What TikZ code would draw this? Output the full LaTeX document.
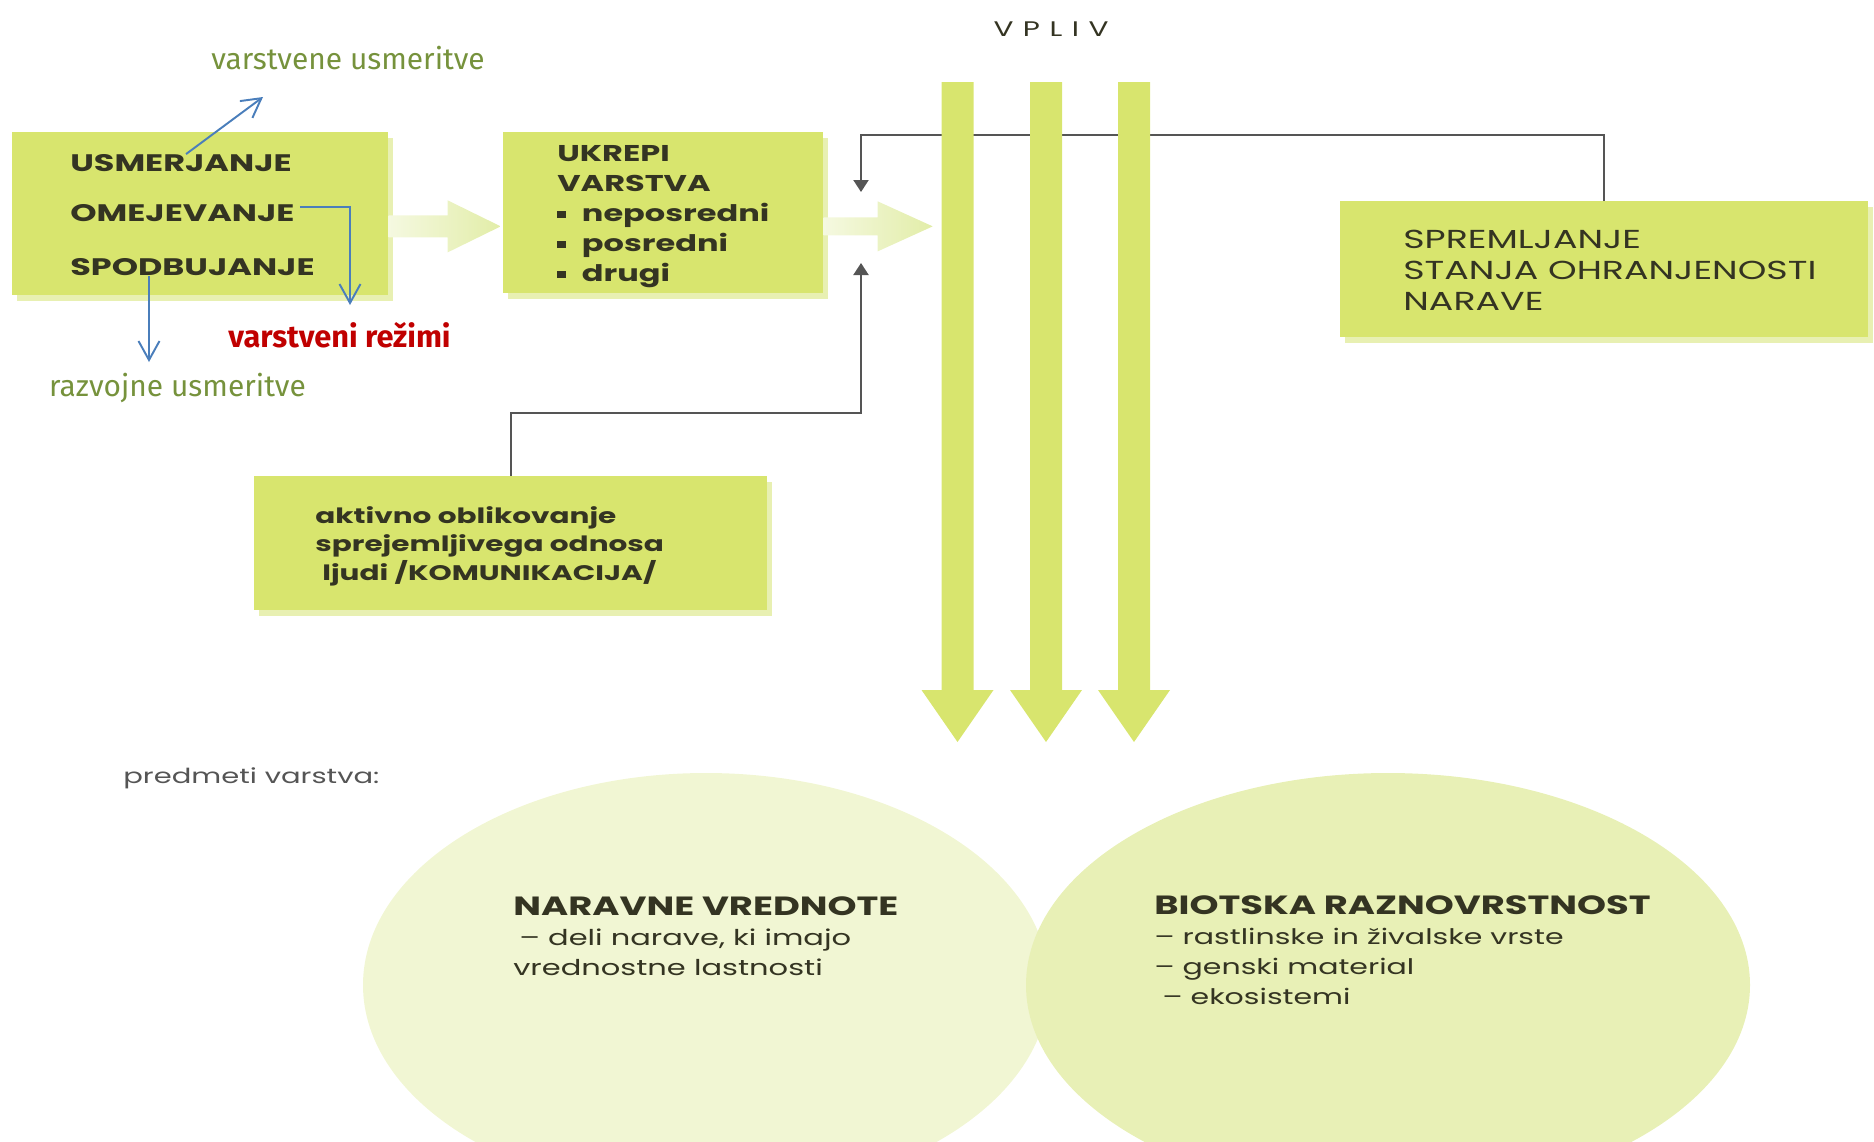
\documentclass[tikz,border=0pt]{standalone}
\usepackage{fontspec}
\usepackage{tikz}
\usetikzlibrary{calc}
\usetikzlibrary{arrows.meta,shadows}

\newfontfamily\shemafont[FakeStretch=1.4]{Poppins}
\newfontfamily\rokafont{Fira Sans}

\definecolor{zelena}{RGB}{216,229,110}
\definecolor{senca}{RGB}{232,240,178}
\definecolor{bleda}{RGB}{226,237,168}
\definecolor{elipsaL}{RGB}{241,246,211}
\definecolor{elipsaD}{RGB}{232,240,182}
\definecolor{crta}{RGB}{85,85,85}
\definecolor{besedilo}{RGB}{52,52,34}
\definecolor{modra}{RGB}{74,126,187}
\definecolor{olivna}{RGB}{118,146,60}
\definecolor{rdeca}{RGB}{192,0,0}

\newcommand{\kvadrat}{\rule[2pt]{5pt}{4pt}\hspace{9pt}}

\tikzset{
  okvir/.style={fill=zelena, inner sep=0pt, anchor=north west,
    drop shadow={fill=senca, opacity=1, shadow xshift=0.1cm, shadow yshift=-0.12cm}},
  napis/.style={anchor=west, inner sep=0pt, align=left, text=besedilo,
    font=\shemafont\fontsize{13}{17}\selectfont\bfseries},
  roka/.style={inner sep=0pt, font=\rokafont\fontsize{17}{20}\selectfont},
  povratna/.style={crta, line width=1.2pt, -{Triangle[length=0.24cm,width=0.30cm]}},
  opomba/.style={modra, line width=1.1pt, -{Straight Barb[length=0.38cm,width=0.42cm]}}
}

\begin{document}
\begin{tikzpicture}
\useasboundingbox (0,0) rectangle (37.48,-22.82);

\fill[elipsaL] (14.12,-19.70) ellipse (6.86 and 4.24);						% predmet levo
\fill[elipsaD] (27.76,-19.70) ellipse (7.24 and 4.24);						% predmet desno

\node[okvir, minimum width=7.52cm, minimum height=3.26cm] (usmerjanje) at (0.24,-2.64) {};	% okvir 1
\node[okvir, minimum width=6.40cm, minimum height=3.22cm] (ukrepi) at (10.06,-2.64) {};		% okvir 2
\node[okvir, minimum width=10.56cm, minimum height=2.72cm] (spremljanje) at (26.80,-4.02) {};	% okvir spremljanje
\node[okvir, minimum width=10.26cm, minimum height=2.68cm] (aktivno) at (5.08,-9.52) {};	% okvir komunikacija

\shade[left color=bleda!35, right color=bleda] ($(usmerjanje.east)+(0,-0.03)$) -- ++(1.18,0) -- ++(0,0.30) -- ++(1.06,-0.52) -- ++(-1.06,-0.52) -- ++(0,0.30) -- ++(-1.18,0) -- cycle;	% puscica 1
\shade[left color=bleda!35, right color=bleda] ($(ukrepi.east)+(0,-0.09)$) -- ++(1.08,0) -- ++(0,0.32) -- ++(1.10,-0.50) -- ++(-1.10,-0.50) -- ++(0,0.32) -- ++(-1.08,0) -- cycle;	% puscica 2

\coordinate (vrh) at (17.22,-3.84);
\coordinate (dno) at (17.22,-5.26);
\draw[povratna] (spremljanje.north) |- (17.22,-2.70) -- (vrh);				% povratna zgoraj
\draw[povratna] (aktivno.north) |- (17.22,-8.26) -- (dno);					% povratna spodaj

\foreach \x in {19.15,20.92,22.68}
  \fill[zelena] (\x-0.32,-1.64) -- (\x+0.32,-1.64) -- (\x+0.32,-13.80) -- (\x+0.72,-13.80) -- (\x,-14.84) -- (\x-0.72,-13.80) -- (\x-0.32,-13.80) -- cycle;	% vpliv
\node[text=besedilo, font=\shemafont\addfontfeature{LetterSpace=45}\fontsize{12}{14}\selectfont] (vpliv) at (21.02,-0.58) {VPLIV};

\node[napis, font=\shemafont\fontsize{13.6}{17}\selectfont\bfseries] (usm) at (1.40,-3.26) {USMERJANJE};
\node[napis, font=\shemafont\fontsize{13.6}{17}\selectfont\bfseries] (ome) at (1.40,-4.26) {OMEJEVANJE};
\node[napis, font=\shemafont\fontsize{13.6}{17}\selectfont\bfseries] (spod) at (1.40,-5.34) {SPODBUJANJE};
\node[napis] (ukrepitxt) at (11.14,-4.33) {UKREPI\\VARSTVA\\\kvadrat neposredni\\\kvadrat posredni\\\kvadrat drugi};
\node[napis, font=\shemafont\fontsize{14.8}{17.5}\selectfont] (spremtxt) at (28.06,-5.41) {SPREMLJANJE\\STANJA OHRANJENOSTI\\NARAVE};
\node[napis, font=\shemafont\fontsize{12}{16.2}\selectfont\bfseries] (aktivnotxt) at (6.30,-10.92) {aktivno oblikovanje\\sprejemljivega odnosa\\\hspace{0.14cm}ljudi /KOMUNIKACIJA/};

\node[napis, text=crta, font=\shemafont\fontsize{11.8}{14}\selectfont] (predmeti) at (2.46,-15.56) {predmeti varstva:};
\node[napis, font=\shemafont\fontsize{12.4}{17}\selectfont] (naravne) at (10.26,-18.72) {{\bfseries\fontsize{15}{17}\selectfont NARAVNE VREDNOTE}\\\hspace{0.12cm}– deli narave, ki imajo\\vrednostne lastnosti};
\node[napis, font=\shemafont\fontsize{12.2}{17}\selectfont] (biotska) at (23.08,-19.00) {{\bfseries\fontsize{15}{17}\selectfont BIOTSKA RAZNOVRSTNOST}\\– rastlinske in živalske vrste\\– genski material\\\hspace{0.16cm}– ekosistemi};

\node[roka, text=olivna] (vu) at (6.96,-1.16) {varstvene usmeritve};
\node[roka, text=rdeca, font=\rokafont\fontsize{17.5}{20}\selectfont\bfseries] (vr) at (6.79,-6.70) {varstveni režimi};
\node[roka, text=olivna] (ru) at (3.55,-7.76) {razvojne usmeritve};

\coordinate (k1) at (5.26,-1.94);
\coordinate (k2) at (7.00,-6.10);
\coordinate (k3) at (2.98,-7.24);
\draw[opomba] ($(usm.north)+(0.10,0)$) -- (k1);						% na varstvene usmeritve
\draw[opomba] ($(ome.east)+(0.1,0.12)$) -| (k2);						% na varstvene rezime
\draw[opomba] ($(spod.south west)+(1.58,0)$) -- (k3);					% na razvojne usmeritve

\end{tikzpicture}
\end{document}
